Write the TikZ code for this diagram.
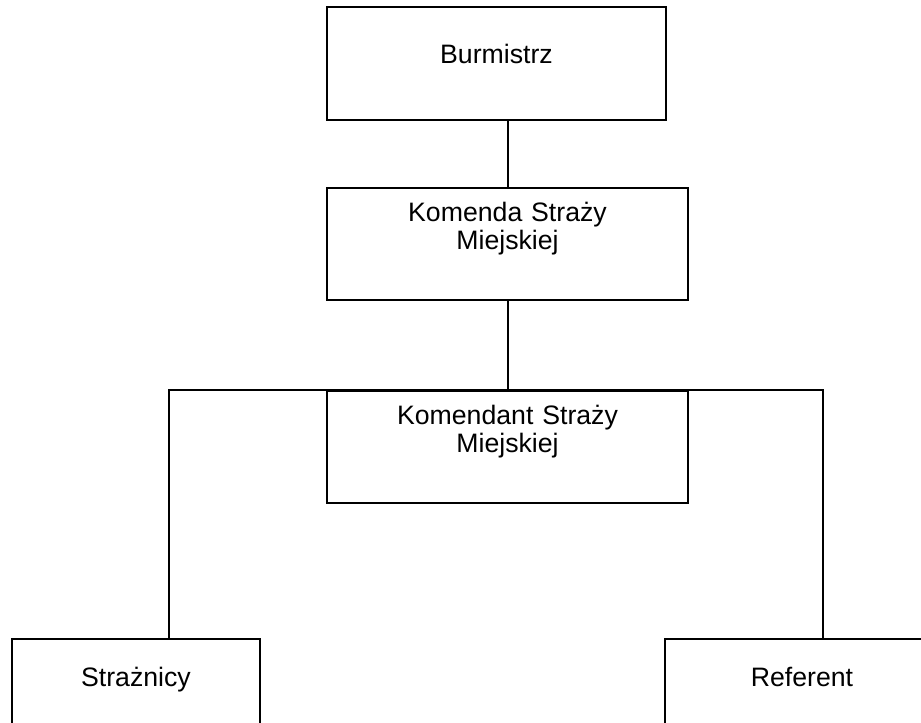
\documentclass[tikz,border=0pt]{standalone}
\usepackage{fontspec}
\setmainfont{Liberation Sans}
\usetikzlibrary{positioning}
\tikzset{
  every picture/.style={font=\fontsize{20pt}{21pt}\selectfont},
  org box/.style={draw=black, line width=1.5pt, rectangle, anchor=north west,
    inner sep=0pt, align=center},
  org line/.style={draw=black, line width=1.5pt}
}
\begin{document}
\begin{tikzpicture}[x=0.75pt,y=-0.75pt]
  \clip (0,0) rectangle (921,723);
  \node[org box,text width=254.25pt,text height=42.75pt,text depth=42pt] (burmistrz) at (326,6) {Burmistrz};
  \node[org box,text width=270.75pt,text height=25pt,text depth=59pt] (komenda) at (326,187) {Komenda Straży\\Miejskiej};
  \node[org box,text width=270.75pt,text height=25pt,text depth=59.25pt] (komendant) at (326,390) {Komendant Straży\\Miejskiej};
  \node[org box,text width=186pt,text height=35.25pt,text depth=49.5pt] (straznicy) at (11,638) {Strażnicy};
  \node[org box,text width=205.5pt,text height=35.25pt,text depth=49.5pt] (referent) at (664,638) {Referent};
  % taps of the branch line
  \coordinate (lefttap) at (169,390);
  \coordinate (righttap) at (823,390);
  \draw[org line] (burmistrz.south -| komenda.north) -- (komenda.north);
  \draw[org line] (komenda.south) -- (komendant.north);
  \draw[org line] (lefttap |- straznicy.north) -- (lefttap) -- (righttap) -- (righttap |- referent.north);
\end{tikzpicture}
\end{document}
